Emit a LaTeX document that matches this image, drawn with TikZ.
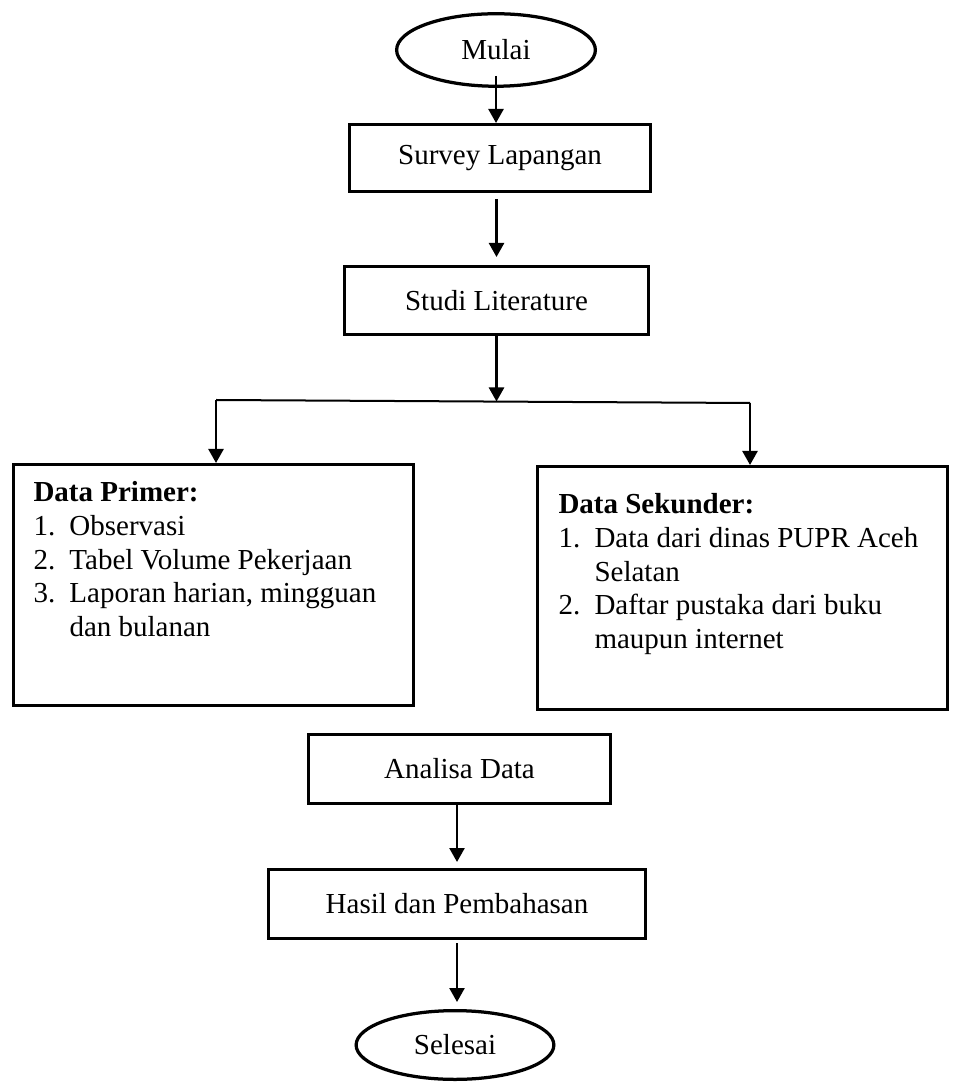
\documentclass[tikz,border=0pt]{standalone}
\usepackage{fontspec}
\setmainfont{Liberation Serif}
\usetikzlibrary{shapes.geometric,arrows.meta}

\begin{document}
\begin{tikzpicture}[x=0.4pt,y=-0.4pt,
  font=\fontsize{11.6}{13.4}\selectfont,
  box/.style={draw,line width=1.3pt,inner sep=0pt},
  oval/.style={draw,ellipse,line width=1.3pt,inner sep=0pt},
  arr/.style={-{Triangle[length=5.6pt,width=6pt]},line width=1pt}]
  \useasboundingbox (0,0) rectangle (952,1083);
  \node[oval,minimum width=79.5pt,minimum height=29pt] (mulai) at (496,50) {Mulai};
  \node[box,minimum width=120.3pt,minimum height=26.7pt] (survey) at (500,158) {Survey Lapangan};
  \node[box,minimum width=121.5pt,minimum height=27.1pt] (studi) at (496.5,300.5) {Studi Literature};
  \node[box,minimum width=159.9pt,minimum height=96.3pt] (primer) at (213.5,585) {};
  \node[box,minimum width=163.9pt,minimum height=97.1pt] (sekunder) at (742.5,588) {};
  \node[box,minimum width=120.7pt,minimum height=27.5pt] (analisa) at (459.5,769) {Analisa Data};
  \node[box,minimum width=150.7pt,minimum height=27.5pt] (hasil) at (457,904) {Hasil dan Pembahasan};
  \node[oval,minimum width=79.1pt,minimum height=27.5pt] (selesai) at (455,1045) {Selesai};
  % isi kotak data
  \node[anchor=base west,inner sep=0pt] (primertext) at (33,502) {\begin{tabular}[t]{@{}p{14.4pt}@{}l@{}}
    \multicolumn{2}{@{}l@{}}{\textbf{Data Primer:}}\\
    1. & Observasi\\
    2. & Tabel Volume Pekerjaan\\
    3. & Laporan harian, mingguan\\
       & dan bulanan
  \end{tabular}};
  \node[anchor=base west,inner sep=0pt] (sekundertext) at (558,514) {\begin{tabular}[t]{@{}p{14.4pt}@{}l@{}}
    \multicolumn{2}{@{}l@{}}{\textbf{Data Sekunder:}}\\
    1. & Data dari dinas PUPR Aceh\\
       & Selatan\\
    2. & Daftar pustaka dari buku\\
       & maupun internet
  \end{tabular}};
  % percabangan
  \coordinate (splitL) at (216,400);
  \coordinate (splitC) at (496.5,401.5);
  \coordinate (splitR) at (750,403);
  \draw[line width=0.8pt] (splitL) -- (splitR);
  \draw[arr] ([yshift=4.8pt]mulai.south) -- (mulai.south |- survey.north);
  \draw[arr,shorten <=2.4pt,shorten >=3.2pt] (studi.north |- survey.south) -- (studi.north);
  \draw[arr] (studi.south) -- (splitC);
  \draw[arr] (splitL) -- (splitL |- primer.north);
  \draw[arr] (splitR) -- (splitR |- sekunder.north);
  \draw[arr,shorten >=2.4pt] (hasil.north |- analisa.south) -- (hasil.north);
  \draw[arr,shorten <=1.2pt,shorten >=2.8pt] (hasil.south) -- (hasil.south |- selesai.north);
\end{tikzpicture}
\end{document}
